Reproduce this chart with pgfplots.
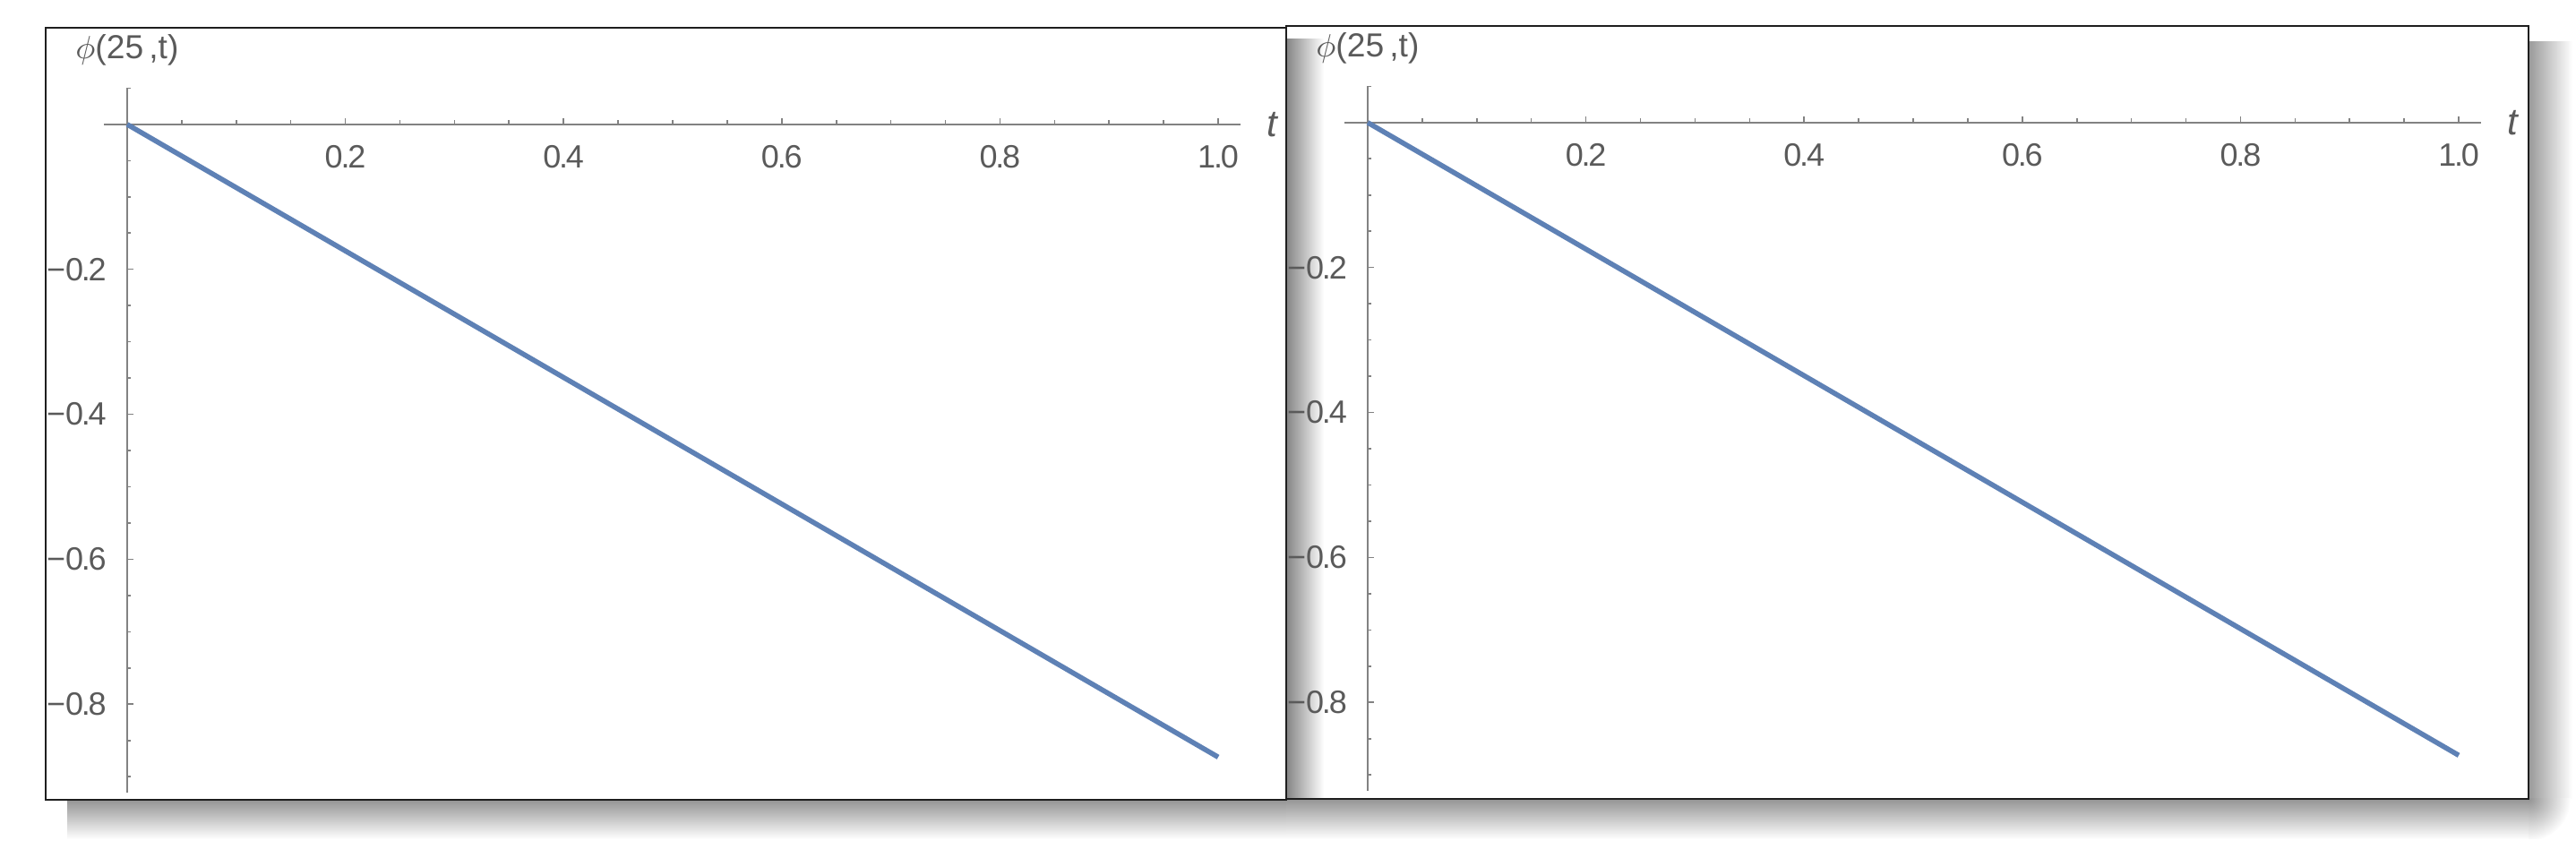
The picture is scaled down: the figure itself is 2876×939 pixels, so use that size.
\documentclass[border=0pt]{standalone}
\usepackage{fontspec}
\setmainfont{Liberation Sans}
\usepackage{pgfplots}
\pgfplotsset{compat=1.18}
\definecolor{mline}{RGB}{94,129,181}
\definecolor{axgray}{RGB}{130,130,130}
\definecolor{labgray}{RGB}{90,90,90}
\definecolor{framec}{RGB}{30,30,30}
\newcommand{\dt}{\kern-0.55pt.\kern-0.55pt}
\pgfplotsset{mmastyle/.style={
  scale only axis, width=317.25pt, height=196.75pt,
  axis lines=middle, clip=false,
  xmin=-0.0213, xmax=1.0205, ymin=-0.922, ymax=0.0505,
  axis line style={draw=axgray, line width=0.4pt, -},
  xtick={0.2,0.4,0.6,0.8,1.0}, xticklabels={0\dt2,0\dt4,0\dt6,0\dt8,1\dt0},
  ytick={-0.8,-0.6,-0.4,-0.2}, yticklabels={−0\dt8,−0\dt6,−0\dt4,−0\dt2},
  minor xtick={0.05,0.1,0.15,0.25,0.3,0.35,0.45,0.5,0.55,0.65,0.7,0.75,0.85,0.9,0.95},
  minor ytick={0.05,-0.05,-0.1,-0.15,-0.25,-0.3,-0.35,-0.45,-0.5,-0.55,-0.65,-0.7,-0.75,-0.85,-0.9},
  tick align=inside,
  major tick length=1.8pt, minor tick length=1.1pt,
  every tick/.style={draw=axgray, line width=0.4pt},
  tick label style={font=\fontsize{9}{11}\selectfont, text=labgray},
  xticklabel style={anchor=north, inner sep=0pt, yshift=-5.8pt},
  yticklabel style={anchor=east, inner sep=0pt, xshift=-5.6pt},
  every axis x label/.style={at={(current axis.right of origin)}, anchor=center, xshift=8.75pt, font=\fontsize{10.5}{12}\selectfont\itshape, text=labgray},
  every axis y label/.style={at={(current axis.above origin)}, anchor=center, yshift=10.5pt, font=\fontsize{9.3}{11}\selectfont, text=labgray},
  xlabel={t}, ylabel={$\phi$(25\,,t)},
}}
\begin{document}
\begin{tikzpicture}[x=0.25pt,y=0.25pt]
\useasboundingbox (0,0) rectangle (2876,939);
% panel backgrounds
\fill[white] (1436,47) rectangle (2823,910);
\fill[white] (51,46) rectangle (1436,908);
% shadows
\shade[top color=black!42, bottom color=white] (75,2) rectangle (1436,46);
\shade[top color=black!42, bottom color=white] (1436,2) rectangle (2823,47);
\shade[left color=black!48, right color=white] (1436,47) rectangle (1478,895);
\shade[left color=black!40, right color=white] (2823,47) rectangle (2872,892);
\begin{scope}
\clip (2823,2) rectangle (2872,47);
\shade[inner color=black!42, outer color=white] (2823,47) circle (47);
\end{scope}
% frames
\draw[framec, line width=0.45pt] (51,46) rectangle (1436,908);
\draw[framec, line width=0.45pt] (1436,47) rectangle (2823,910);
% left panel
\begin{axis}[mmastyle, at={(29pt,13.5pt)}, anchor=south west]
\addplot[mline, line width=1.4pt] coordinates {(0,0) (0.5,-0.4365) (1,-0.873)};
\end{axis}
% right panel
\begin{axis}[mmastyle, at={(375.25pt,14pt)}, anchor=south west]
\addplot[mline, line width=1.4pt] coordinates {(0,0) (0.5,-0.4365) (1,-0.873)};
\end{axis}
\end{tikzpicture}
\end{document}
